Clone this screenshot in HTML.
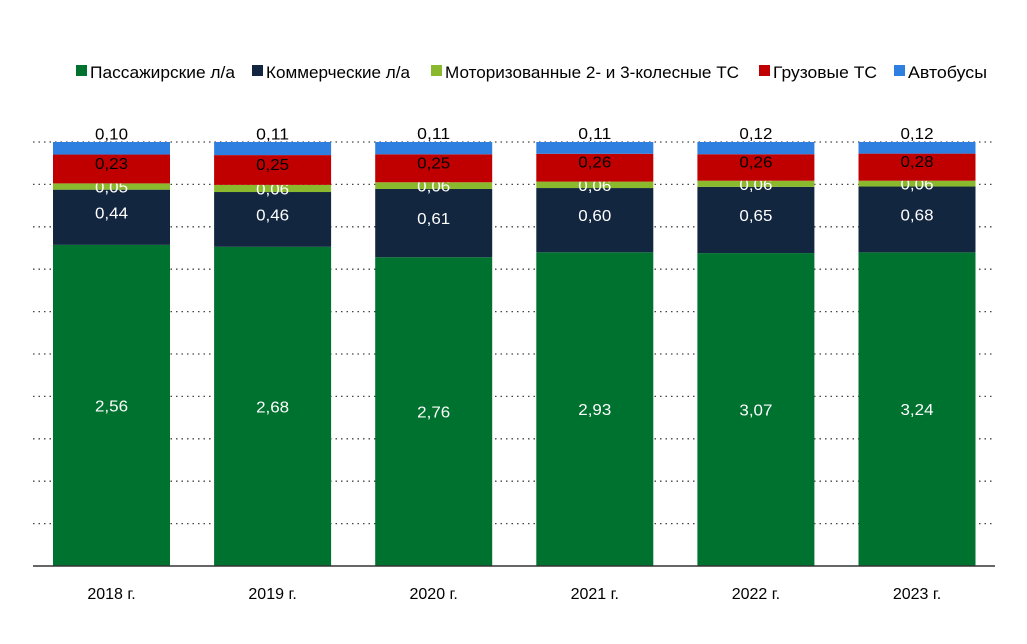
<!DOCTYPE html>
<html><head><meta charset="utf-8"><style>
body{margin:0;background:#fff;font-family:"Liberation Sans",sans-serif;}
svg text{font-family:"Liberation Sans",sans-serif;}
</style></head><body>
<svg width="1027" height="639" id="chart">
<g id="legend"></g>
<g id="grid"></g>
<g id="bars"></g>
<g id="xaxis"></g>
</svg>
<script>
const categories=["2018 г.","2019 г.","2020 г.","2021 г.","2022 г.","2023 г."];
const seriesNames=["Пассажирские л/а","Коммерческие л/а","Моторизованные 2- и 3-колесные ТС","Грузовые ТС","Автобусы"];
const passenger=[2.56,2.68,2.76,2.93,3.07,3.24];
const commercial=[0.44,0.46,0.61,0.60,0.65,0.68];
const moto=[0.05,0.06,0.06,0.06,0.06,0.06];
const trucks=[0.23,0.25,0.25,0.26,0.26,0.28];
const buses=[0.10,0.11,0.11,0.11,0.12,0.12];
const series=[passenger,commercial,moto,trucks,buses];
const colors=["#00722f","#13263f","#8ab92d","#c00000","#2f7fe0"];
const textColors=["#fff","#fff","#fff","#000","#000"];
const labelShift=[0,-5,0,-6,-15];
const NS="http://www.w3.org/2000/svg";
const x0=33,x1=995,yTop=142,yBot=566,barW=117;
function yScale(f){return yBot-f*(yBot-yTop);}
function xScale(i){return 53+i*161.1;}
function mk(tag,attrs,parent){const e=document.createElementNS(NS,tag);for(const k in attrs)e.setAttribute(k,attrs[k]);parent.appendChild(e);return e;}
const grid=document.getElementById('grid');
for(let i=0;i<=9;i++){const y=yTop+i*(yBot-yTop)/10;
const l=mk('line',{x1:x0,x2:x1,y1:y,y2:y,stroke:'#444','stroke-width':1.3,'stroke-dasharray':'1.5,4'},grid);

}
const bars=document.getElementById('bars');
categories.forEach((c,i)=>{
 const tot=series.reduce((s,a)=>s+a[i],0);let cum=0;
 series.forEach((arr,k)=>{
  const v=arr[i];const ya=yScale(cum/tot),yb=yScale((cum+v)/tot);cum+=v;
  const r=mk('rect',{x:xScale(i),y:yb,width:barW,height:ya-yb,fill:colors[k]},bars);
  
  
  const t=mk('text',{x:xScale(i)+barW/2,y:(ya+yb)/2+6+labelShift[k],'text-anchor':'middle','font-size':16,fill:textColors[k],textLength:33,lengthAdjust:'spacingAndGlyphs'},bars);
  t.textContent=v.toFixed(2).replace('.',',');
  
  
 });
});
const xa=document.getElementById('xaxis');
const ax=mk('line',{x1:x0,x2:x1,y1:yBot,y2:yBot,stroke:'#333','stroke-width':1.5},xa);


categories.forEach((c,i)=>{const t=mk('text',{x:xScale(i)+barW/2,y:599,'text-anchor':'middle','font-size':16,fill:'#000'},xa);t.textContent=c;

});
const lg=document.getElementById('legend');
const lx=[76,252,431,759,894];
const lw=[145,144,294,104,79];
seriesNames.forEach((n,k)=>{
 const r=mk('rect',{x:lx[k],y:65,width:11,height:11,fill:colors[k]},lg);
 
 
 const t=mk('text',{x:lx[k]+14,y:78,'font-size':17,fill:'#000',textLength:lw[k],lengthAdjust:'spacingAndGlyphs'},lg);t.textContent=n;
 
 
});
</script>
</body></html>
